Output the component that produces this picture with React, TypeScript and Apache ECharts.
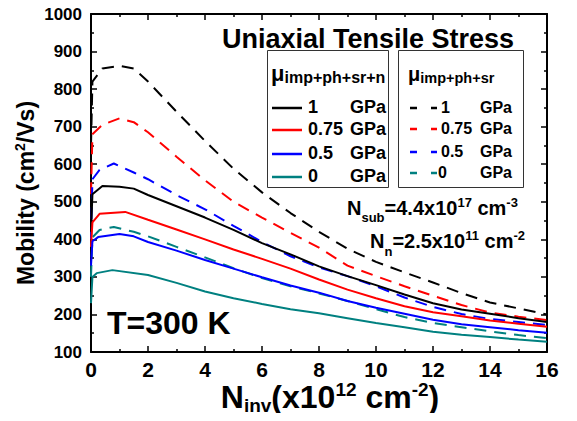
import { useEffect, useRef } from "react";
import * as echarts from "echarts";

const FONT = "'Liberation Sans', Arial, Helvetica, sans-serif";

// Mobility (cm^2/Vs) versus inversion density N_inv (x10^12 cm^-2)
// μ_imp+ph+sr+n : solid curves
const FULL_1_X = [0, 0.05, 0.4, 1, 1.5, 2, 3, 4, 5, 6, 7, 8, 9, 10, 11, 12, 13, 14, 15, 16];
const FULL_1_Y = [420, 520, 542, 540, 535, 518, 488, 458, 425, 390, 360, 328, 302, 278, 253, 230, 213, 202, 190, 180];
const FULL_075_X = [0, 0.05, 0.3, 1.2, 2, 3, 4, 5, 6, 7, 8, 9, 10, 11, 12, 13, 14, 15, 16];
const FULL_075_Y = [380, 445, 468, 473, 452, 426, 400, 373, 348, 322, 293, 266, 243, 222, 206, 195, 184, 175, 167];
const FULL_05_X = [0, 0.05, 0.25, 1, 1.5, 2, 3, 4, 5, 6, 7, 8, 9, 10, 11, 12, 13, 14, 15, 16];
const FULL_05_Y = [330, 395, 406, 414, 408, 393, 370, 345, 322, 299, 277, 258, 236, 218, 202, 186, 174, 166, 158, 151];
const FULL_0_X = [0, 0.05, 0.2, 0.75, 2, 3, 4, 5, 6, 7, 8, 9, 10, 11, 12, 13, 14, 15, 16];
const FULL_0_Y = [230, 300, 310, 318, 305, 284, 261, 243, 228, 214, 203, 190, 177, 166, 154, 146, 140, 133, 127];

// μ_imp+ph+sr : dashed curves
const SR_1_X = [0, 0.05, 0.4, 1, 1.5, 2, 3, 4, 5, 6, 7, 8, 9, 10, 11, 12, 13, 14, 15, 16];
const SR_1_Y = [650, 820, 855, 862, 855, 820, 740, 662, 588, 525, 470, 420, 375, 340, 312, 285, 257, 232, 216, 200];
const SR_075_X = [0, 0.05, 0.4, 1, 1.5, 2, 3, 4, 5, 6, 7, 8, 9, 10, 11, 12, 13, 14, 15, 16];
const SR_075_Y = [520, 680, 705, 722, 712, 685, 620, 557, 500, 458, 417, 378, 330, 302, 275, 250, 225, 205, 194, 185];
const SR_05_X = [0, 0.05, 0.3, 0.8, 1.5, 2, 3, 4, 5, 6, 7, 8, 9, 10, 11, 12, 13, 14, 15, 16];
const SR_05_Y = [400, 560, 585, 602, 578, 560, 518, 480, 436, 393, 355, 325, 302, 275, 245, 220, 201, 188, 180, 172];
const SR_0_X = [0, 0.05, 0.3, 0.8, 1.5, 2, 3, 4, 5, 6, 7, 8, 9, 10, 11, 12, 13, 14, 15, 16];
const SR_0_Y = [300, 405, 425, 433, 420, 408, 380, 352, 323, 297, 275, 256, 236, 214, 193, 177, 166, 155, 145, 137];

const STRESS_LABELS = ["1", "0.75", "0.5", "0"];
const COLORS = ["#000000", "#ff0000", "#0000ff", "#008080"];
const FULL_X = [FULL_1_X, FULL_075_X, FULL_05_X, FULL_0_X];
const FULL_Y = [FULL_1_Y, FULL_075_Y, FULL_05_Y, FULL_0_Y];
const SR_X = [SR_1_X, SR_075_X, SR_05_X, SR_0_X];
const SR_Y = [SR_1_Y, SR_075_Y, SR_05_Y, SR_0_Y];

const X_MIN = 0;
const X_MAX = 16;
const X_STEP = 2;
const Y_MIN = 100;
const Y_MAX = 1000;
const Y_STEP = 100;

const zip = (xs: number[], ys: number[]) => xs.map((x, i) => [x, ys[i]]);

// Rich text with sub/superscripts: each part has a font size and a baseline shift (dy > 0 is lower).
type Part = { t: string; size: number; dy?: number };
function richBlock(parts: Part[]) {
  const rich: Record<string, any> = {};
  let base = 0;
  parts.forEach((p) => {
    base = Math.max(base, 0.85 * p.size - (p.dy || 0));
  });
  const text = parts
    .map((p, i) => {
      const pad = base + (p.dy || 0) - 0.85 * p.size;
      rich["p" + i] = {
        fontSize: p.size,
        lineHeight: p.size,
        fontWeight: "bold",
        fontFamily: FONT,
        fill: "#000",
        verticalAlign: "top",
        padding: [Math.max(0, pad), 0, 0, 0],
      };
      return "{p" + i + "|" + p.t + "}";
    })
    .join("");
  return { text, rich, base };
}

function richText(x: number, baselineY: number, parts: Part[], align = "left", extra: any = {}) {
  const b = richBlock(parts);
  return {
    type: "text",
    x,
    y: baselineY,
    ...extra,
    style: {
      text: b.text,
      rich: b.rich,
      align,
      verticalAlign: "top",
      y: -b.base,
      fontFamily: FONT,
    },
    z: 100,
  };
}

function plainText(x: number, y: number, t: string, size: number, align = "left") {
  return {
    type: "text",
    x,
    y,
    style: {
      text: t,
      fontSize: size,
      fontWeight: "bold",
      fontFamily: FONT,
      fill: "#000",
      align,
      verticalAlign: "middle",
    },
    z: 100,
  };
}

function buildLegend() {
  const els: any[] = [];
  // left box: μ_imp+ph+sr+n, solid samples
  els.push({ type: "rect", shape: { x: 267.5, y: 50.5, width: 121, height: 137 }, style: { fill: "#fff", stroke: "#333", lineWidth: 1 }, z: 90 });
  els.push(richText(271, 81, [{ t: "μ", size: 22 }, { t: "imp+ph+sr+n", size: 16, dy: 2 }]));
  const rowsA = [108, 130, 154, 177];
  STRESS_LABELS.forEach((lab, i) => {
    els.push({ type: "line", shape: { x1: 272, y1: rowsA[i], x2: 302, y2: rowsA[i] }, style: { stroke: COLORS[i], lineWidth: 2.5 }, z: 100 });
    els.push(plainText(308, rowsA[i] - 1, lab, 18));
    els.push(plainText(350, rowsA[i] - 1, "GPa", 18));
  });
  // right box: μ_imp+ph+sr, dashed samples
  els.push({ type: "rect", shape: { x: 398.5, y: 50.5, width: 125, height: 137 }, style: { fill: "#fff", stroke: "#333", lineWidth: 1 }, z: 90 });
  els.push(richText(408, 81, [{ t: "μ", size: 20 }, { t: "imp+ph+sr", size: 14.5, dy: 2 }]));
  const rowsB = [108, 129, 152, 173];
  STRESS_LABELS.forEach((lab, i) => {
    els.push({ type: "line", shape: { x1: 410, y1: rowsB[i], x2: 437, y2: rowsB[i] }, style: { stroke: COLORS[i], lineWidth: 2.5, lineDash: [7, 14] }, z: 100 });
    els.push(plainText(lab === "0" ? 438 : 441, rowsB[i] - 1, lab, 16));
    els.push(plainText(480, rowsB[i] - 1, "GPa", 16));
  });
  return els;
}

export default function App() {
  const ref = useRef<HTMLDivElement>(null);

  useEffect(() => {
    if (!ref.current) return;
    const chart = echarts.init(ref.current, null, { renderer: "svg" });

    const axisCommon = {
      axisLine: { show: true, onZero: false, lineStyle: { color: "#000", width: 2 } },
      axisTick: { show: true, inside: true, length: 6, lineStyle: { color: "#000", width: 1.5 } },
      minorTick: { show: true, splitNumber: 2, length: 3, lineStyle: { color: "#000", width: 1.5 } },
      splitLine: { show: false },
      minorSplitLine: { show: false },
    };

    const series: any[] = [];
    STRESS_LABELS.forEach((lab, i) => {
      series.push({
        name: "μimp+ph+sr " + lab + " GPa",
        type: "line",
        data: zip(SR_X[i], SR_Y[i]),
        showSymbol: false,
        symbol: "none",
        lineStyle: { color: COLORS[i], width: 2, type: [12, 8] },
        z: 3,
      });
    });
    STRESS_LABELS.forEach((lab, i) => {
      series.push({
        name: "μimp+ph+sr+n " + lab + " GPa",
        type: "line",
        data: zip(FULL_X[i], FULL_Y[i]),
        showSymbol: false,
        symbol: "none",
        lineStyle: { color: COLORS[i], width: 2 },
        z: 4,
      });
    });

    chart.setOption({
      animation: false,
      backgroundColor: "#fff",
      grid: { left: 91, right: 30, top: 14, bottom: 69, containLabel: false },
      xAxis: [
        {
          type: "value",
          min: X_MIN,
          max: X_MAX,
          interval: X_STEP,
          ...axisCommon,
          axisLabel: { show: true, margin: 7, fontSize: 21, fontWeight: "bold", fontFamily: FONT, color: "#000", formatter: (v: number) => String(v) },
        },
        {
          type: "value",
          position: "top",
          min: X_MIN,
          max: X_MAX,
          interval: X_STEP,
          ...axisCommon,
          axisLabel: { show: false },
        },
      ],
      yAxis: [
        {
          type: "value",
          min: Y_MIN,
          max: Y_MAX,
          interval: Y_STEP,
          ...axisCommon,
          axisLabel: { show: true, margin: 9, fontSize: 17, fontWeight: "bold", fontFamily: FONT, color: "#000", formatter: (v: number) => String(v) },
        },
        {
          type: "value",
          position: "right",
          min: Y_MIN,
          max: Y_MAX,
          interval: Y_STEP,
          ...axisCommon,
          axisLabel: { show: false },
        },
      ],
      series,
      graphic: [
        plainText(222, 39, "Uniaxial Tensile Stress", 27),
        ...buildLegend(),
        richText(347, 215, [
          { t: "N", size: 20 },
          { t: "sub", size: 13, dy: 7 },
          { t: "=4.4x10", size: 20 },
          { t: "17", size: 13, dy: -8 },
          { t: " cm", size: 20 },
          { t: "-3", size: 13, dy: -8 },
        ]),
        richText(370, 248, [
          { t: "N", size: 20 },
          { t: "n", size: 13, dy: 8 },
          { t: "=2.5x10", size: 20 },
          { t: "11", size: 13, dy: -8 },
          { t: " cm", size: 20 },
          { t: "-2", size: 13, dy: -8 },
        ]),
        plainText(107, 323, "T=300 K", 32),
        richText(330, 408, [
          { t: "N", size: 32 },
          { t: "inv", size: 19, dy: 4 },
          { t: "(x10", size: 32 },
          { t: "12", size: 19, dy: -12 },
          { t: " cm", size: 32 },
          { t: "-2", size: 19, dy: -12 },
          { t: ")", size: 32 },
        ], "center"),
        {
          type: "group",
          x: 34,
          y: 193,
          rotation: Math.PI / 2,
          children: [
            richText(0, 0, [
              { t: "Mobility (cm", size: 23 },
              { t: "2", size: 14, dy: -9 },
              { t: "/Vs)", size: 23 },
            ], "center"),
          ],
        },
      ],
    });

    return () => chart.dispose();
  }, []);

  return <div ref={ref} style={{ width: 577, height: 421, margin: -8 }} />;
}
